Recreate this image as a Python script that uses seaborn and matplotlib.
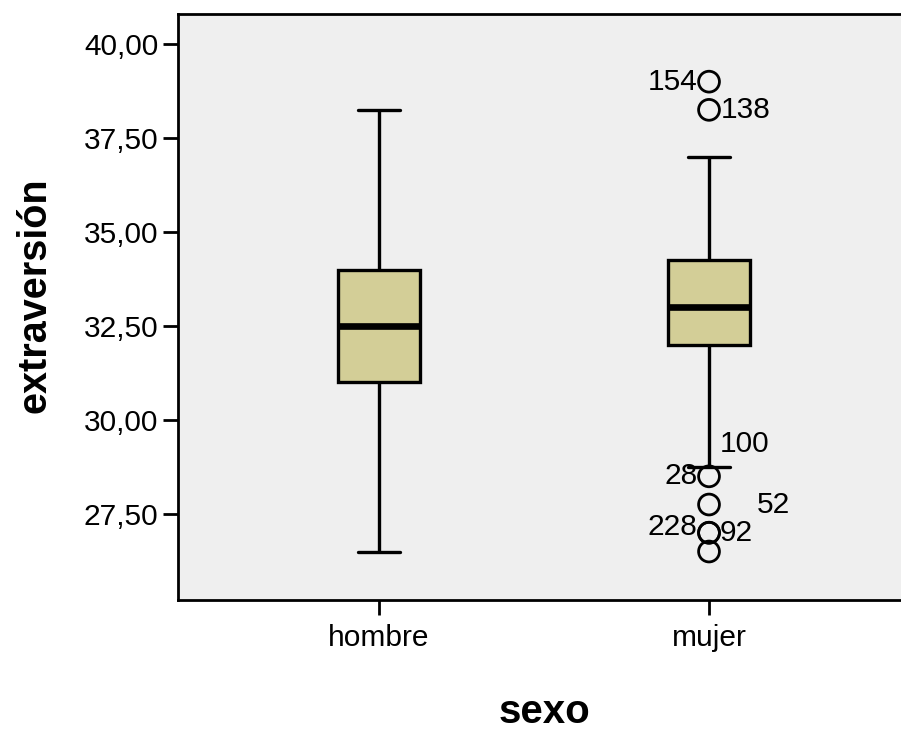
import matplotlib
matplotlib.use("Agg")
import matplotlib.pyplot as plt
import seaborn as sns
import pandas as pd
from matplotlib.ticker import FuncFormatter, FixedLocator

# ---- data (five-number summaries) ----
categories = ["hombre", "mujer"]
whisker_low = [26.5, 28.75]
q1 = [31.0, 32.0]
median = [32.5, 33.0]
q3 = [34.0, 34.25]
whisker_high = [38.25, 37.0]

outlier_group = ["mujer", "mujer", "mujer", "mujer", "mujer", "mujer", "mujer"]
outlier_value = [39.0, 38.25, 28.5, 27.75, 27.0, 27.0, 26.5]

label_text = ["154", "138", "100", "28", "52", "228", "92"]
label_value = [39.0, 38.25, 29.35, 28.5, 27.75, 27.15, 27.0]
y_ticks = [27.5, 30.0, 32.5, 35.0, 37.5, 40.0]

# ---- build long-form table for seaborn ----
rows = []
for i, c in enumerate(categories):
    for v in (whisker_low[i], q1[i], median[i], q3[i], whisker_high[i]):
        rows.append({"sexo": c, "extraversión": v})
df = pd.DataFrame(rows)
df_out = pd.DataFrame({"sexo": outlier_group, "extraversión": outlier_value})

sns.set_theme(style="white")
plt.rcParams["font.family"] = ["Liberation Sans", "DejaVu Sans"]
plt.rcParams["text.color"] = "black"
plt.rcParams["axes.labelcolor"] = "black"

fig = plt.figure(figsize=(9.01, 7.33), dpi=100)
ax = fig.add_axes([178 / 901, 1 - 600 / 733, (910 - 178) / 901, (600 - 14) / 733])
ax.set_facecolor("#EFEFEF")

sns.boxplot(data=df, x="sexo", y="extraversión", order=categories,
            color="#D3CE97", linecolor="black", linewidth=2.4, width=0.25,
            whis=1.5, showfliers=False, saturation=1,
            medianprops={"linewidth": 4.8}, ax=ax)

sns.stripplot(data=df_out, x="sexo", y="extraversión", order=categories,
              jitter=False, marker="o", s=15, linewidth=2,
              edgecolor="black", color="none", ax=ax)
for coll in ax.collections:
    coll.set_facecolor("none")
    coll.set_edgecolor("black")
    coll.set_linewidth(2)

# annotations for outliers (case ids)
xpos = categories.index("mujer")
label_dx = [-0.035, 0.035, 0.033, -0.035, 0.145, -0.035, 0.033]
label_ha = ["right", "left", "left", "right", "left", "right", "left"]
for t, v, dx, ha in zip(label_text, label_value, label_dx, label_ha):
    ax.text(xpos + dx, v, t, ha=ha, va="center", fontsize=21.5, color="black")

ax.set_xlim(-0.609, 1.609)
ax.set_ylim(25.21, 40.8)
ax.yaxis.set_major_locator(FixedLocator(y_ticks))
ax.yaxis.set_major_formatter(FuncFormatter(lambda v, p: f"{v:.2f}".replace(".", ",")))

ax.tick_params(axis="both", which="major", direction="out", length=11, width=2,
               color="black", labelsize=21.5, labelcolor="black", pad=3,
               left=True, bottom=True)
ax.tick_params(axis="x", pad=6)

for s in ["left", "bottom", "top", "right"]:
    ax.spines[s].set_visible(True)
    ax.spines[s].set_color("black")
    ax.spines[s].set_linewidth(2)

ax.set_xlabel("sexo", fontsize=29, fontweight="bold", color="black")
ax.set_ylabel("extraversión", fontsize=28.5, fontweight="bold", color="black")
ax.xaxis.set_label_coords(0.5, (600 - 712) / 586 - 0.0, transform=ax.transAxes)
ax.xaxis.label.set_va("center")
ax.yaxis.set_label_coords((35 - 178) / 732, (600 - 295) / 586, transform=ax.transAxes)
ax.yaxis.label.set_va("center")

fig.savefig("out.png", dpi=100, facecolor="white")
